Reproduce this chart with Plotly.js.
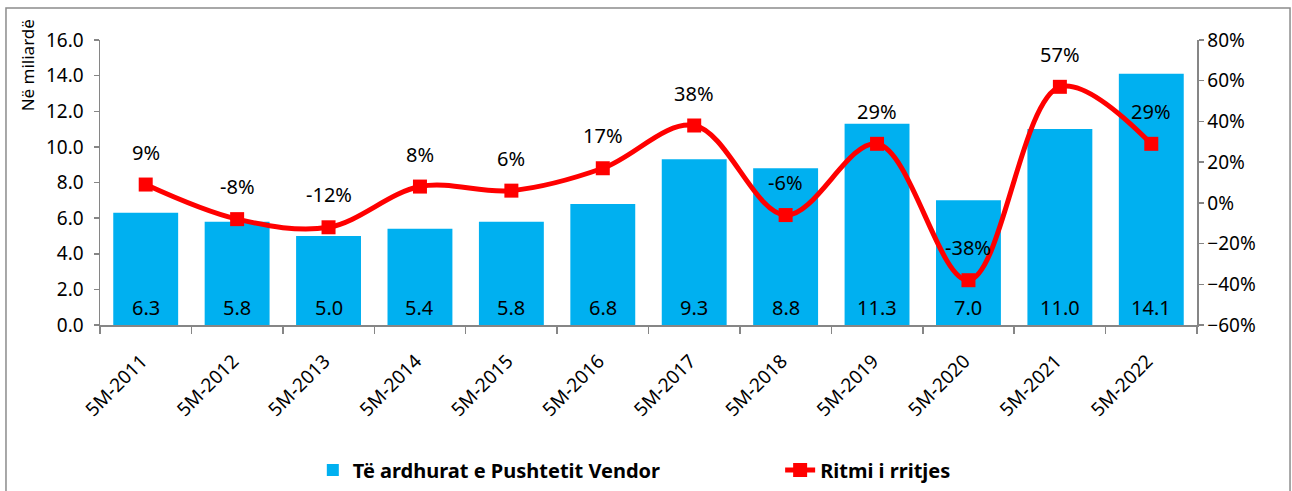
<!DOCTYPE html>
<html>
<head>
<meta charset="utf-8">
<script src="https://cdn.plot.ly/plotly-3.0.1.min.js"></script>
<style>
html,body{margin:0;padding:0;background:#fff;}
#chart{width:1292px;height:491px;}
</style>
</head>
<body>
<div id="chart"></div>
<script>
const categories = ["5M-2011","5M-2012","5M-2013","5M-2014","5M-2015","5M-2016","5M-2017","5M-2018","5M-2019","5M-2020","5M-2021","5M-2022"];
const revenue = [6.3, 5.8, 5.0, 5.4, 5.8, 6.8, 9.3, 8.8, 11.3, 7.0, 11.0, 14.1];
const growth = [0.09, -0.08, -0.12, 0.08, 0.06, 0.17, 0.38, -0.06, 0.29, -0.38, 0.57, 0.29];
const barName = "Të ardhurat e Pushtetit Vendor";
const lineName = "Ritmi i rritjes";
const yTitle = "Në miliardë";

const FONT = "Noto Sans, Open Sans, sans-serif";
const AX = "#868686";

const bars = {
  type: "bar", x: categories, y: revenue, name: barName,
  marker: {color: "#00B0F0"}, hoverinfo: "x+y", legend: "legend"
};
const line = {
  type: "scatter", mode: "lines+markers", x: categories, y: growth, yaxis: "y2",
  name: lineName, line: {color: "#FF0000", width: 5, shape: "spline", smoothing: 1},
  marker: {symbol: "square", size: 14, color: "#FF0000"}, legend: "legend2"
};

const annotations = [];
categories.forEach((c, i) => {
  annotations.push({x: c, y: 0, xref: "x", yref: "y", yanchor: "bottom", yshift: 2,
    text: revenue[i].toFixed(1), showarrow: false, font: {family: FONT, size: 20, color: "#000"}});
  annotations.push({x: c, y: growth[i], xref: "x", yref: "y2", yanchor: "bottom", yshift: 17,
    text: Math.round(growth[i] * 100) + "%", showarrow: false, font: {family: FONT, size: 20, color: "#000"}});
});
annotations.push({xref: "paper", yref: "paper", x: -0.066, y: 1.078, xanchor: "center", yanchor: "top",
  textangle: -90, text: yTitle, showarrow: false, font: {family: FONT, size: 17, color: "#000"}});

const innerTick = {ticks: "inside", ticklen: 5, tickcolor: AX, tickwidth: 1.5, showticklabels: false,
  showline: false, showgrid: false, zeroline: false, automargin: false, fixedrange: true};

const layout = {
  width: 1292, height: 491,
  margin: {l: 100, r: 95, t: 40, b: 166},
  paper_bgcolor: "#fff", plot_bgcolor: "#fff",
  font: {family: FONT, size: 19, color: "#000"},
  bargap: 0.29,
  showlegend: true,
  xaxis: {type: "category", range: [-0.5, 11.5], automargin: false, showline: true, linecolor: AX, linewidth: 1.5,
    ticks: "outside", tickson: "boundaries", ticklen: 7, tickcolor: AX, tickwidth: 1.5,
    tickangle: -45, ticklabelstandoff: 16, ticklabelshift: -4,
    showgrid: false, zeroline: false, tickfont: {family: FONT, size: 19}},
  xaxis2: Object.assign({type: "linear", range: [-0.5, 11.5], tick0: -0.5, dtick: 1, overlaying: "x", anchor: "y", side: "bottom"}, innerTick),
  yaxis: {range: [0, 16], dtick: 2, tick0: 0, tickformat: ".1f", automargin: false, showline: true, linecolor: AX, linewidth: 1.5,
    ticks: "outside", ticklen: 5, tickcolor: AX, tickwidth: 1.5, ticklabelstandoff: 6, showgrid: false, zeroline: false,
    tickfont: {family: FONT, size: 19}},
  yaxis3: Object.assign({range: [0, 16], dtick: 2, tick0: 0, overlaying: "y", anchor: "x", side: "left"}, innerTick),
  yaxis2: {range: [-0.6, 0.8], dtick: 0.2, tick0: -0.6, tickformat: ".0%", overlaying: "y", side: "right", automargin: false,
    showline: true, linecolor: AX, linewidth: 1.5, ticks: "outside", ticklen: 5, tickcolor: AX, tickwidth: 1.5,
    showgrid: false, zeroline: false, tickfont: {family: FONT, size: 19}},
  yaxis4: Object.assign({range: [-0.6, 0.8], dtick: 0.2, tick0: -0.6, overlaying: "y", anchor: "x", side: "right"}, innerTick),
  legend: {orientation: "h", x: 0.194, xref: "paper", y: 0.0428, yref: "container", xanchor: "left", yanchor: "middle",
    font: {family: FONT, size: 20, weight: "bold", color: "#000"}, bgcolor: "rgba(0,0,0,0)"},
  legend2: {orientation: "h", x: 0.62, xref: "paper", y: 0.0428, yref: "container", xanchor: "left", yanchor: "middle",
    font: {family: FONT, size: 20, weight: "bold", color: "#000"}, bgcolor: "rgba(0,0,0,0)"},
  annotations: annotations,
  shapes: [{type: "rect", xref: "paper", yref: "paper", x0: -0.0857, x1: 1.0848, y0: 1.112, y1: -0.8,
    line: {color: "#8c8c8c", width: 1.5}, fillcolor: "rgba(0,0,0,0)"}]
};

Plotly.newPlot("chart", [bars, line], layout, {displayModeBar: false, staticPlot: true});
</script>
</body>
</html>
